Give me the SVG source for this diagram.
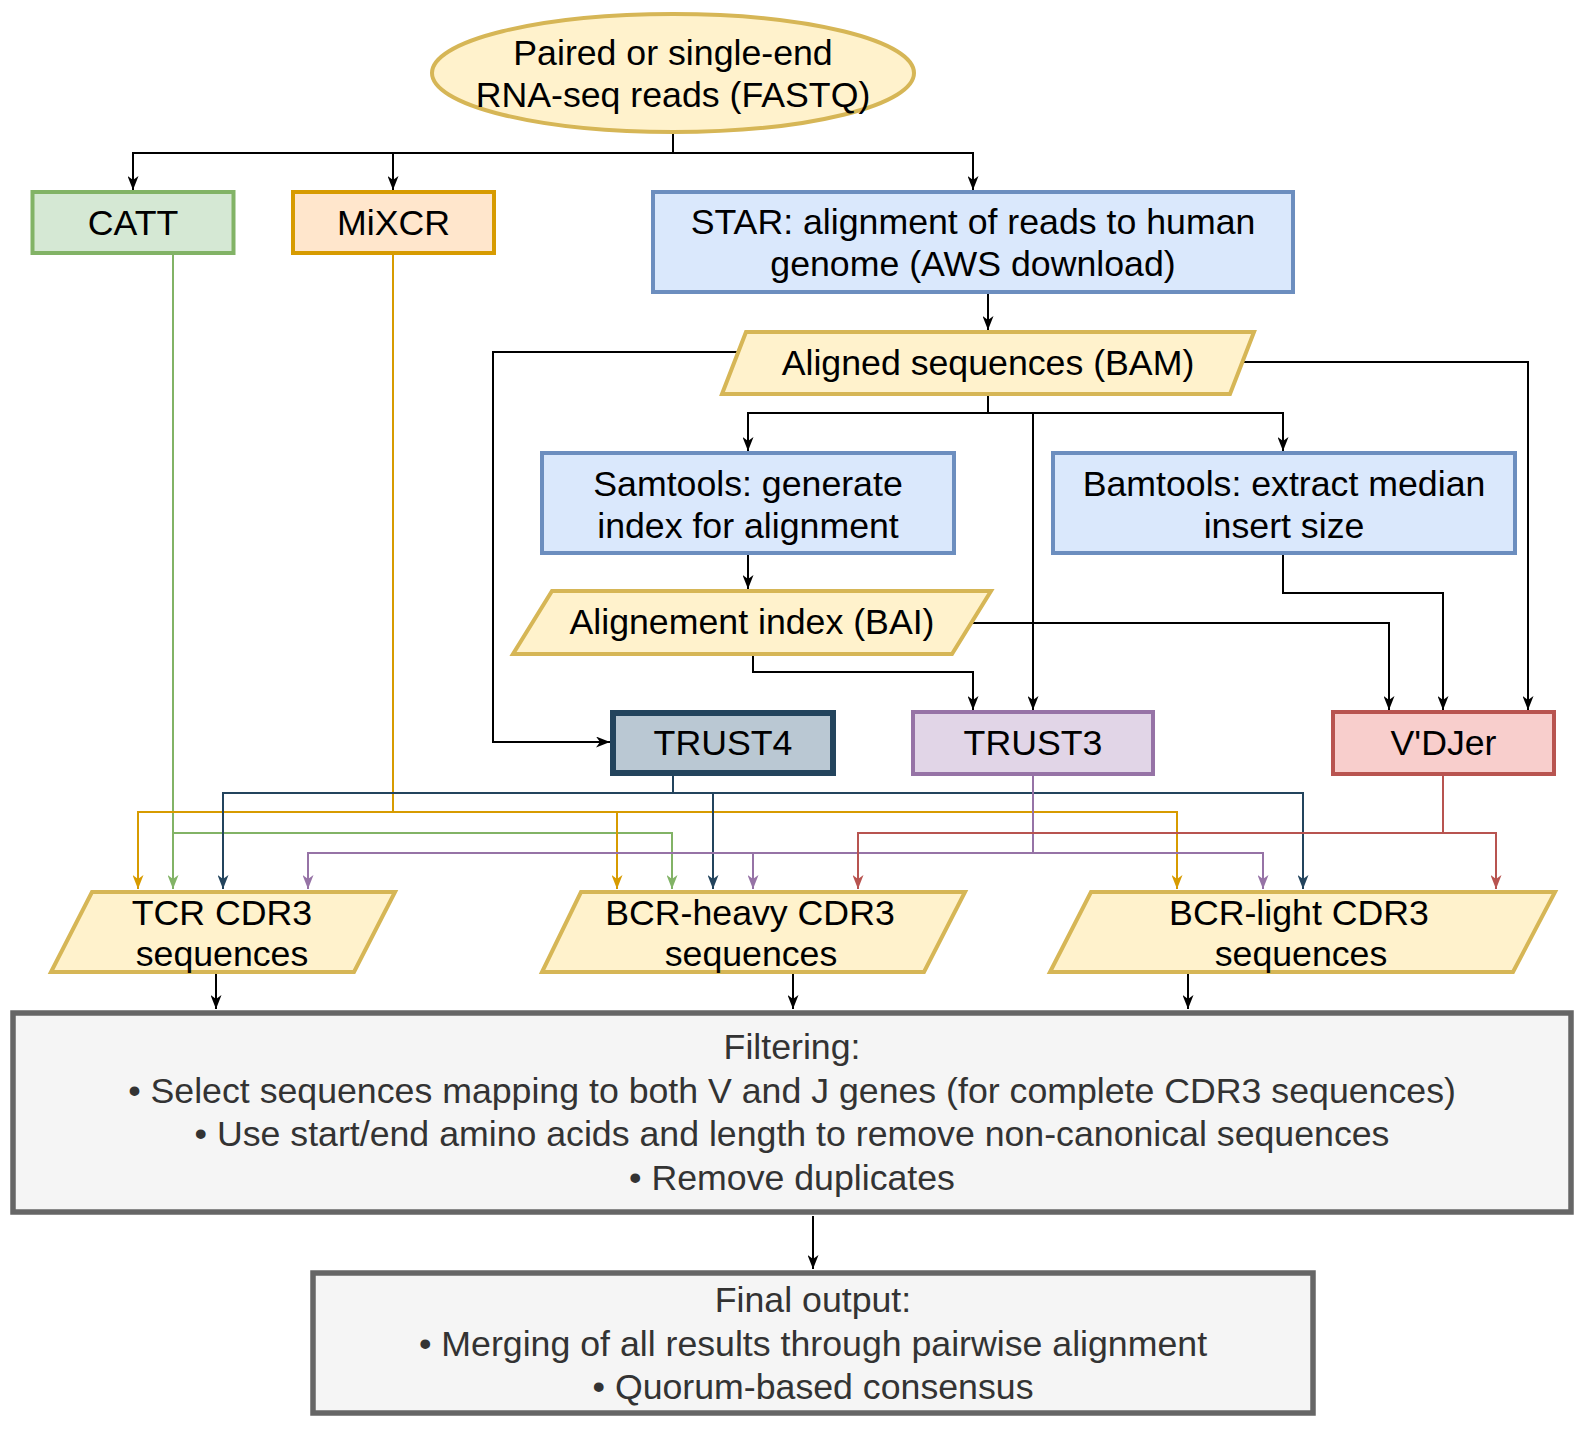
<svg xmlns="http://www.w3.org/2000/svg" width="1586" height="1440" viewBox="0 0 1586 1440">
<style>
text{font-family:"Liberation Sans",Arial,Helvetica,sans-serif;font-size:35.7px;text-anchor:middle;fill:#000}
.g text{fill:#333333}
.yel{fill:#fff2cc;stroke:#d6b656;stroke-width:4}
.blue{fill:#dae8fc;stroke:#6c8ebf;stroke-width:4}
.c{fill:none;stroke-width:2}
.k{stroke:#000}
.cg{stroke:#82b366}
.co{stroke:#d79b00}
.cd{stroke:#23445d}
.cp{stroke:#9673a6}
.cr{stroke:#b85450}
</style>
<defs>
<marker id="ak" markerUnits="userSpaceOnUse" markerWidth="14" markerHeight="11" viewBox="0 0 14 11" refX="14" refY="5.5" orient="auto"><path d="M0,0 L14,5.5 L0,11 L4,5.5 z" fill="#000"/></marker>
<marker id="ag" markerUnits="userSpaceOnUse" markerWidth="14" markerHeight="11" viewBox="0 0 14 11" refX="14" refY="5.5" orient="auto"><path d="M0,0 L14,5.5 L0,11 L4,5.5 z" fill="#82b366"/></marker>
<marker id="ao" markerUnits="userSpaceOnUse" markerWidth="14" markerHeight="11" viewBox="0 0 14 11" refX="14" refY="5.5" orient="auto"><path d="M0,0 L14,5.5 L0,11 L4,5.5 z" fill="#d79b00"/></marker>
<marker id="ad" markerUnits="userSpaceOnUse" markerWidth="14" markerHeight="11" viewBox="0 0 14 11" refX="14" refY="5.5" orient="auto"><path d="M0,0 L14,5.5 L0,11 L4,5.5 z" fill="#23445d"/></marker>
<marker id="ap" markerUnits="userSpaceOnUse" markerWidth="14" markerHeight="11" viewBox="0 0 14 11" refX="14" refY="5.5" orient="auto"><path d="M0,0 L14,5.5 L0,11 L4,5.5 z" fill="#9673a6"/></marker>
<marker id="ar" markerUnits="userSpaceOnUse" markerWidth="14" markerHeight="11" viewBox="0 0 14 11" refX="14" refY="5.5" orient="auto"><path d="M0,0 L14,5.5 L0,11 L4,5.5 z" fill="#b85450"/></marker>
</defs>
<rect width="1586" height="1440" fill="#ffffff"/>

<g id="connectors">
<!-- from FASTQ -->
<path class="c k" d="M673,132 V153"/>
<path class="c k" d="M673,153 H133 V190" marker-end="url(#ak)"/>
<path class="c k" d="M393,153 V190" marker-end="url(#ak)"/>
<path class="c k" d="M673,153 H973 V190" marker-end="url(#ak)"/>
<!-- STAR to BAM -->
<path class="c k" d="M988,294 V330" marker-end="url(#ak)"/>
<!-- BAM -->
<path class="c k" d="M738,352 H493 V742 H610" marker-end="url(#ak)"/>
<path class="c k" d="M1242,362 H1528 V710" marker-end="url(#ak)"/>
<path class="c k" d="M988,394 V413"/>
<path class="c k" d="M988,413 H748 V451" marker-end="url(#ak)"/>
<path class="c k" d="M988,413 H1283 V451" marker-end="url(#ak)"/>
<path class="c k" d="M1033,413 V710" marker-end="url(#ak)"/>
<!-- Samtools to BAI -->
<path class="c k" d="M748,555 V589" marker-end="url(#ak)"/>
<!-- BAI -->
<path class="c k" d="M971,623 H1389 V710" marker-end="url(#ak)"/>
<path class="c k" d="M753,655 V672 H973 V710" marker-end="url(#ak)"/>
<!-- Bamtools -->
<path class="c k" d="M1283,555 V593 H1443 V710" marker-end="url(#ak)"/>
<!-- CATT -->
<path class="c cg" d="M173,255 V889" marker-end="url(#ag)"/>
<path class="c cg" d="M173,833 H672 V889" marker-end="url(#ag)"/>
<!-- MiXCR -->
<path class="c co" d="M393,255 V812 H138 V889" marker-end="url(#ao)"/>
<path class="c co" d="M393,812 H617 V889" marker-end="url(#ao)"/>
<path class="c co" d="M617,812 H1177 V889" marker-end="url(#ao)"/>
<!-- TRUST4 -->
<path class="c cd" d="M673,776 V793 H223 V889" marker-end="url(#ad)"/>
<path class="c cd" d="M673,793 H713 V889" marker-end="url(#ad)"/>
<path class="c cd" d="M713,793 H1303 V889" marker-end="url(#ad)"/>
<!-- TRUST3 -->
<path class="c cp" d="M1033,775 V853 H308 V889" marker-end="url(#ap)"/>
<path class="c cp" d="M753,853 V889" marker-end="url(#ap)"/>
<path class="c cp" d="M1033,853 H1263 V889" marker-end="url(#ap)"/>
<!-- V'DJer -->
<path class="c cr" d="M1443,775 V833 H858 V889" marker-end="url(#ar)"/>
<path class="c cr" d="M1443,833 H1496 V889" marker-end="url(#ar)"/>
<!-- CDR3 to filtering -->
<path class="c k" d="M216,974 V1009" marker-end="url(#ak)"/>
<path class="c k" d="M793,974 V1009" marker-end="url(#ak)"/>
<path class="c k" d="M1188,974 V1009" marker-end="url(#ak)"/>
<!-- filtering to final -->
<path class="c k" d="M813,1216 V1269" marker-end="url(#ak)"/>
</g>

<g id="fastq">
<ellipse cx="673" cy="73" rx="241" ry="59" class="yel"/>
<text x="673" y="65">Paired or single-end</text>
<text x="673" y="107">RNA-seq reads (FASTQ)</text>
</g>

<g id="catt">
<rect x="32.5" y="192" width="201" height="61" fill="#d5e8d4" stroke="#82b366" stroke-width="4"/>
<text x="133" y="235">CATT</text>
</g>

<g id="mixcr">
<rect x="293" y="192" width="201" height="61" fill="#ffe6cc" stroke="#d79b00" stroke-width="4"/>
<text x="393.5" y="235">MiXCR</text>
</g>

<g id="star">
<rect x="653" y="192" width="640" height="100" class="blue"/>
<text x="973" y="234">STAR: alignment of reads to human</text>
<text x="973" y="276">genome (AWS download)</text>
</g>

<g id="bam">
<polygon points="746,332 1254,332 1230,394 722,394" class="yel"/>
<text x="988" y="374.5">Aligned sequences (BAM)</text>
</g>

<g id="samtools">
<rect x="542" y="453" width="412" height="100" class="blue"/>
<text x="748" y="495.5">Samtools: generate</text>
<text x="748" y="537.5">index for alignment</text>
</g>

<g id="bamtools">
<rect x="1053" y="453" width="462" height="100" class="blue"/>
<text x="1284" y="495.5">Bamtools: extract median</text>
<text x="1284" y="537.5">insert size</text>
</g>

<g id="bai">
<polygon points="552,591 991,591 952,654 513,654" class="yel"/>
<text x="752" y="634">Alignement index (BAI)</text>
</g>

<g id="trust4">
<rect x="613" y="713" width="220" height="60" fill="#bac8d3" stroke="#23445d" stroke-width="6"/>
<text x="723" y="755">TRUST4</text>
</g>

<g id="trust3">
<rect x="913" y="712" width="240" height="62" fill="#e1d5e7" stroke="#9673a6" stroke-width="4"/>
<text x="1033" y="755">TRUST3</text>
</g>

<g id="vdjer">
<rect x="1333" y="712" width="221" height="62" fill="#f8cecc" stroke="#b85450" stroke-width="4"/>
<text x="1443.5" y="755">V'DJer</text>
</g>

<g id="tcr">
<polygon points="92,892 395,892 354,972 51,972" class="yel"/>
<text x="222" y="924.5">TCR CDR3</text>
<text x="222" y="966">sequences</text>
</g>

<g id="bcr-heavy">
<polygon points="581,892 965,892 924,972 542,972" class="yel"/>
<text x="750" y="924.5">BCR-heavy CDR3</text>
<text x="751" y="966">sequences</text>
</g>

<g id="bcr-light">
<polygon points="1091,892 1555,892 1513,972 1050,972" class="yel"/>
<text x="1299" y="924.5">BCR-light CDR3</text>
<text x="1301" y="966">sequences</text>
</g>

<g id="filtering" class="g">
<rect x="13" y="1013" width="1558" height="199" fill="#f5f5f5" stroke="#666666" stroke-width="5.5"/>
<text x="792" y="1058.5">Filtering:</text>
<text x="792" y="1102.5">• Select sequences mapping to both V and J genes (for complete CDR3 sequences)</text>
<text x="792" y="1146">• Use start/end amino acids and length to remove non-canonical sequences</text>
<text x="792" y="1190">• Remove duplicates</text>
</g>

<g id="final" class="g">
<rect x="313" y="1273" width="1000" height="140" fill="#f5f5f5" stroke="#666666" stroke-width="5.5"/>
<text x="813" y="1311.5">Final output:</text>
<text x="813" y="1355.5">• Merging of all results through pairwise alignment</text>
<text x="813" y="1399">• Quorum-based consensus</text>
</g>
</svg>
